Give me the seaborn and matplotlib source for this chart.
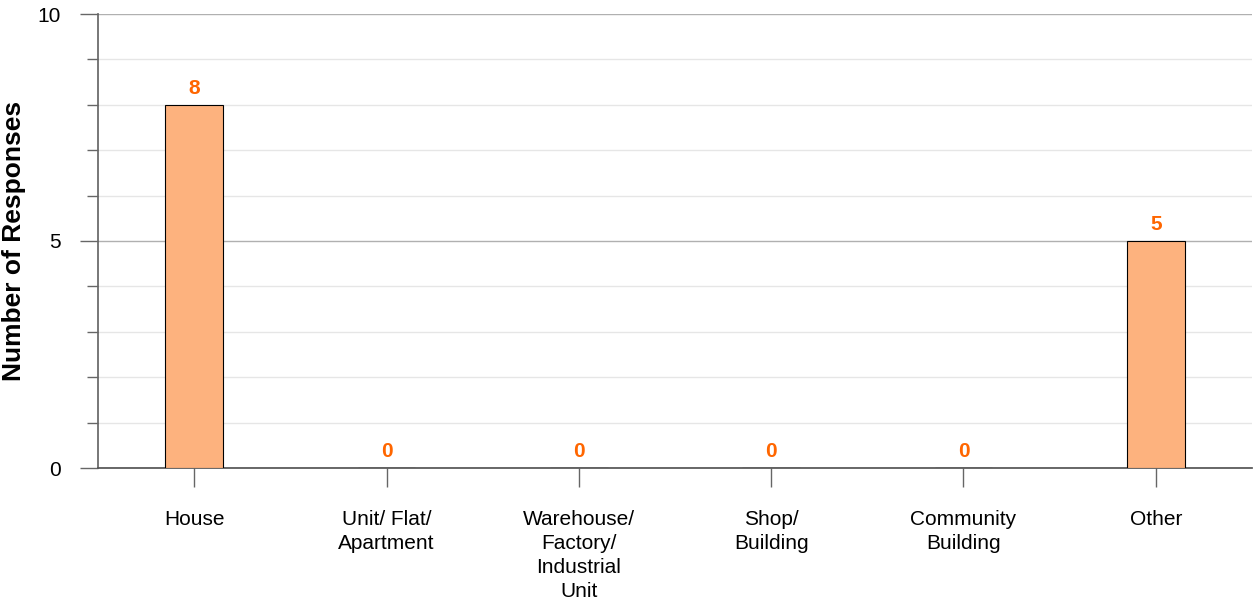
import matplotlib
matplotlib.use("Agg")
import matplotlib.pyplot as plt
import seaborn as sns
import pandas as pd
from matplotlib.ticker import MultipleLocator

categories = ["House", "Unit/ Flat/\nApartment", "Warehouse/\nFactory/\nIndustrial\nUnit",
              "Shop/\nBuilding", "Community\nBuilding", "Other"]
responses = [8, 0, 0, 0, 0, 5]

sns.set_theme(style="white")
plt.rcParams['font.family'] = ['Liberation Sans', 'DejaVu Sans']
plt.rcParams['text.color'] = 'black'
plt.rcParams['axes.labelcolor'] = 'black'

df = pd.DataFrame({"category": categories, "responses": responses})

fig = plt.figure(figsize=(12.55, 6.0), dpi=100)
ax = fig.add_axes([98/1255, 1 - 468/600, (1252 - 98)/1255, (468 - 14)/600])

sns.barplot(data=df, x="category", y="responses", color="#FDB27E", width=0.3,
            edgecolor="black", linewidth=0.8, saturation=1, ax=ax, zorder=5)

ax.set_xlim(-0.5, 5.5)
ax.set_ylim(0, 10)
ax.yaxis.set_major_locator(MultipleLocator(5))
ax.yaxis.set_minor_locator(MultipleLocator(1))
ax.grid(which="major", axis="y", color="#b0b0b0", linewidth=1, zorder=0)
ax.grid(which="minor", axis="y", color="#e6e6e6", linewidth=1, zorder=0)
ax.set_axisbelow(True)

for s in ["top", "right"]:
    ax.spines[s].set_visible(False)
ax.spines["left"].set_color("#666666")
ax.spines["bottom"].set_color("#555555")
ax.spines["left"].set_zorder(4)
ax.spines["bottom"].set_zorder(4)

ax.tick_params(axis="y", which="major", length=13, width=1, color="#666666",
               labelsize=15, labelcolor="black", pad=14, left=True)
ax.tick_params(axis="y", which="minor", length=8, width=1, color="#666666", left=True)
ax.tick_params(axis="x", which="major", length=14, width=1, color="#666666",
               labelsize=15, labelcolor="black", pad=16, bottom=True)
for lbl in ax.get_xticklabels():
    lbl.set_linespacing(1.35)

ax.set_xlabel("")
ax.set_ylabel("Number of Responses", fontsize=19, fontweight="bold", labelpad=6,
              color="black")
ax.yaxis.set_label_coords(-72/1154, 0.5)

for i, v in enumerate(responses):
    ax.annotate(str(v), xy=(i, v), xytext=(0, 5), textcoords="offset points",
                ha="center", va="bottom", color="#FF6600", fontsize=15,
                fontweight="bold")

fig.savefig("out.png", dpi=100)
